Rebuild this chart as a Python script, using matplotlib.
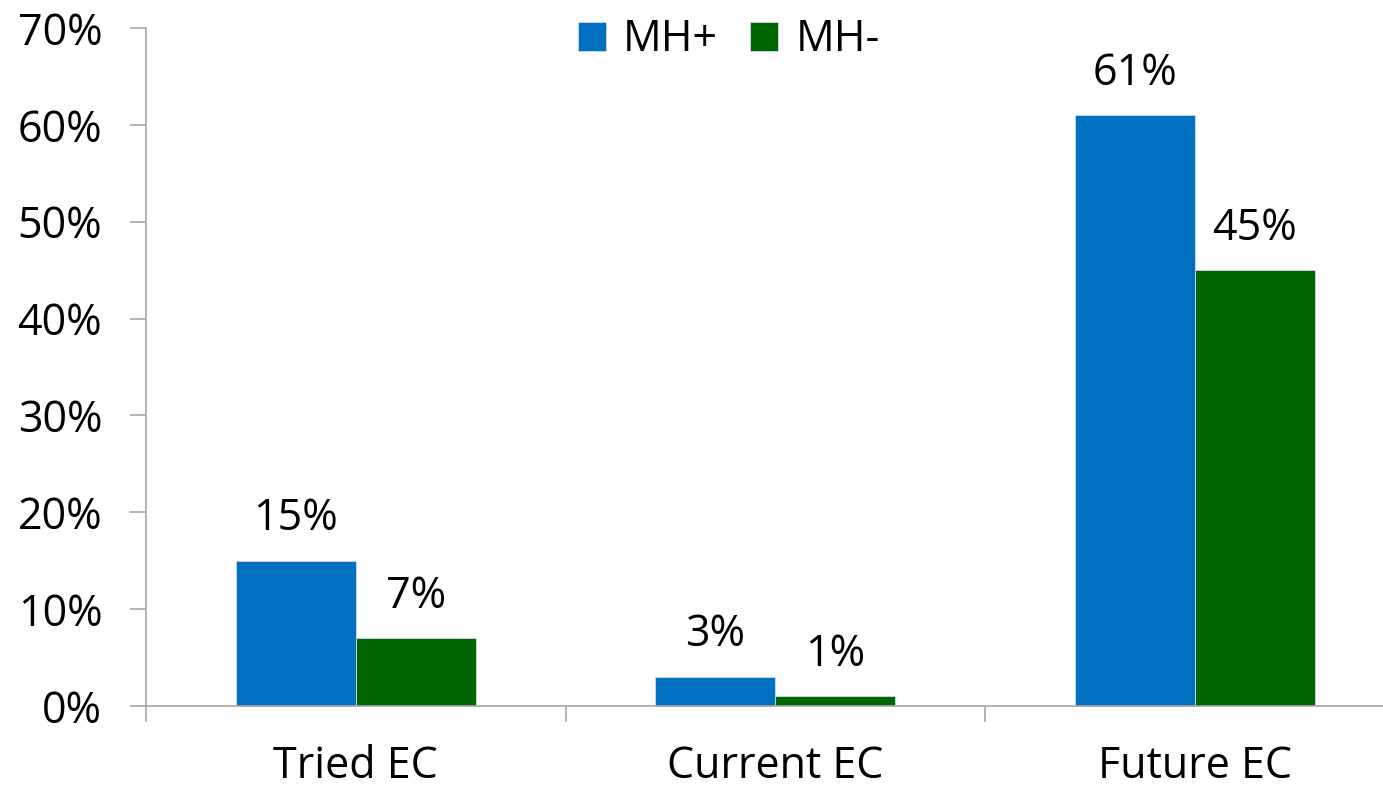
import matplotlib
matplotlib.use("Agg")
import matplotlib.pyplot as plt
import numpy as np

categories = ["Tried EC", "Current EC", "Future EC"]
mh_pos = [15, 3, 61]
mh_neg = [7, 1, 45]
series_names = ["MH+", "MH-"]
y_ticks = [0, 10, 20, 30, 40, 50, 60, 70]

plt.rcParams["font.family"] = ["Open Sans", "DejaVu Sans"]
FS = 31
AXIS_GRAY = "#A6A6A6"
BLUE = "#0070C0"
GREEN = "#006600"

fig = plt.figure(figsize=(13.83, 7.87), dpi=100)
ax = fig.add_axes([146 / 1383, 81 / 787, 1258.5 / 1383, 678 / 787])

x = np.arange(len(categories))
w = 0.286
b1 = ax.bar(x - w / 2, mh_pos, width=w, color=BLUE, edgecolor="#cfdcea",
            linewidth=0.6, label=series_names[0])
b2 = ax.bar(x + w / 2, mh_neg, width=w, color=GREEN, edgecolor="#cfdcea",
            linewidth=0.6, label=series_names[1])

for bars, vals in ((b1, mh_pos), (b2, mh_neg)):
    for rect, v in zip(bars, vals):
        ax.annotate(f"{v}%", (rect.get_x() + rect.get_width() / 2, v),
                    xytext=(0, 14), textcoords="offset points",
                    ha="center", va="bottom", fontsize=FS)

ax.set_xlim(-0.5, len(categories) - 0.5)
ax.set_ylim(0, 70)

ax.set_yticks(y_ticks)
ax.set_yticklabels([f"{t}%" for t in y_ticks], fontsize=FS)
ax.tick_params(axis="y", length=11.5, width=1.2, color=AXIS_GRAY, pad=20)

ax.set_xticks(np.arange(len(categories) + 1) - 0.5)
ax.set_xticklabels([])
ax.set_xticks(x, minor=True)
ax.set_xticklabels(categories, minor=True, fontsize=FS)
ax.tick_params(axis="x", which="major", length=11.5, width=1.2, color=AXIS_GRAY)
ax.tick_params(axis="x", which="minor", length=0, pad=28)

for side in ("top", "right"):
    ax.spines[side].set_visible(False)
for side in ("left", "bottom"):
    ax.spines[side].set_color(AXIS_GRAY)
    ax.spines[side].set_linewidth(1.2)

fig.legend(handles=[b1, b2], loc="upper center", bbox_to_anchor=(729 / 1383, 0.98),
           ncol=2, frameon=False, fontsize=FS, handlelength=0.65, handleheight=0.65,
           handletextpad=0.4, columnspacing=0.75, borderaxespad=0.0,
           borderpad=0.05)

fig.savefig("out.png", dpi=100)
